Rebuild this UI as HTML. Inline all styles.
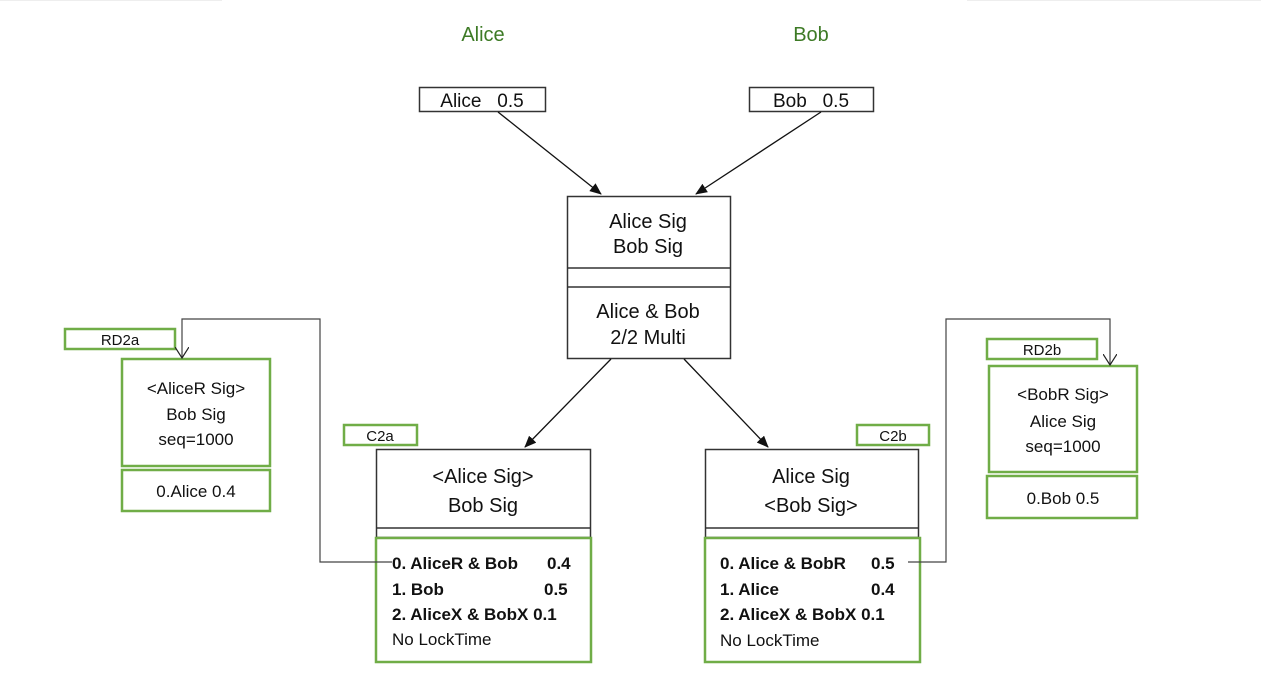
<!DOCTYPE html>
<html><head><meta charset="utf-8"><style>
html,body{margin:0;padding:0;background:#fff;width:1261px;height:694px;overflow:hidden}
svg{display:block}
text{font-family:"Liberation Sans",sans-serif;fill:#111}
</style></head><body>
<svg width="1261" height="694" viewBox="0 0 1261 694" xmlns="http://www.w3.org/2000/svg">
<defs>
<marker id="a" markerWidth="12" markerHeight="10" refX="11" refY="5" orient="auto" markerUnits="userSpaceOnUse"><path d="M0,0 L12,5 L0,10 Z" fill="#111"/></marker>
<marker id="o" markerWidth="12" markerHeight="14" refX="11" refY="7" orient="auto" markerUnits="userSpaceOnUse"><path d="M0,0 L11,7 L0,14" fill="none" stroke="#222" stroke-width="1.2"/></marker>
</defs>
<line x1="0" y1="0.5" x2="222" y2="0.5" stroke="#eee"/>
<line x1="967" y1="0.5" x2="1261" y2="0.5" stroke="#eee"/>
<text x="483" y="41" text-anchor="middle" font-size="20" style="fill:#3d7a25">Alice</text>
<text x="811" y="41" text-anchor="middle" font-size="20" style="fill:#3d7a25">Bob</text>
<g fill="none" stroke="#333" stroke-width="1.5">
<rect x="419.5" y="87.5" width="126" height="24"/>
<rect x="749.5" y="87.5" width="124" height="24"/>
<rect x="567.5" y="196.5" width="163" height="162"/>
<line x1="567" y1="268" x2="730" y2="268"/><line x1="567" y1="287" x2="730" y2="287"/>
<rect x="376.5" y="449.5" width="214" height="88"/>
<line x1="376" y1="528" x2="590" y2="528"/>
<rect x="705.5" y="449.5" width="213" height="88"/>
<line x1="705" y1="528" x2="918" y2="528"/>
</g>
<text x="482" y="107" text-anchor="middle" font-size="19" xml:space="preserve">Alice   0.5</text>
<text x="811" y="107" text-anchor="middle" font-size="19" xml:space="preserve">Bob   0.5</text>
<g font-size="20" text-anchor="middle">
<text x="648" y="228">Alice Sig</text><text x="648" y="253">Bob Sig</text>
<text x="648" y="318">Alice &amp; Bob</text><text x="648" y="344">2/2 Multi</text>
<text x="483" y="483">&lt;Alice Sig&gt;</text><text x="483" y="512">Bob Sig</text>
<text x="811" y="483">Alice Sig</text><text x="811" y="512">&lt;Bob Sig&gt;</text>
</g>
<g stroke="#111" stroke-width="1.3">
<line x1="498" y1="112" x2="601" y2="194" marker-end="url(#a)"/>
<line x1="821" y1="112" x2="696" y2="194" marker-end="url(#a)"/>
<line x1="611" y1="359" x2="525" y2="447" marker-end="url(#a)"/>
<line x1="684" y1="359" x2="768" y2="447" marker-end="url(#a)"/>
</g>
<g fill="none" stroke="#70ad47" stroke-width="2.5">
<rect x="376" y="538" width="215" height="124"/>
<rect x="705" y="538" width="215" height="124"/>
<rect x="344" y="425" width="73" height="20"/>
<rect x="857" y="425" width="72" height="20"/>
<rect x="65" y="329" width="110" height="20"/>
<rect x="122" y="359" width="148" height="107"/>
<rect x="122" y="470" width="148" height="41"/>
<rect x="987" y="339" width="110" height="20"/>
<rect x="989" y="366" width="148" height="106"/>
<rect x="987" y="476" width="150" height="42"/>
</g>
<g fill="none" stroke="#444" stroke-width="1.2">
<polyline points="392,562 320,562 320,319 182,319 182,358" marker-end="url(#o)"/>
<polyline points="908,562 946,562 946,319 1110,319 1110,365" marker-end="url(#o)"/>
</g>
<g font-size="15" text-anchor="middle">
<text x="380" y="441">C2a</text><text x="893" y="441">C2b</text>
<text x="120" y="345">RD2a</text><text x="1042" y="355">RD2b</text>
</g>
<g font-size="17" text-anchor="middle">
<text x="196" y="394">&lt;AliceR Sig&gt;</text><text x="196" y="420">Bob Sig</text><text x="196" y="445">seq=1000</text>
<text x="196" y="497">0.Alice 0.4</text>
<text x="1063" y="400">&lt;BobR Sig&gt;</text><text x="1063" y="427">Alice Sig</text><text x="1063" y="452">seq=1000</text>
<text x="1063" y="504">0.Bob 0.5</text>
</g>
<g font-size="17" font-weight="bold">
<text x="392" y="569">0. AliceR &amp; Bob</text><text x="547" y="569">0.4</text>
<text x="392" y="595">1. Bob</text><text x="544" y="595">0.5</text>
<text x="392" y="620">2. AliceX &amp; BobX 0.1</text>
<text x="720" y="569">0. Alice &amp; BobR</text><text x="871" y="569">0.5</text>
<text x="720" y="595">1. Alice</text><text x="871" y="595">0.4</text>
<text x="720" y="620">2. AliceX &amp; BobX 0.1</text>
</g>
<g font-size="17">
<text x="392" y="645">No LockTime</text>
<text x="720" y="646">No LockTime</text>
</g>
</svg>
</body></html>
